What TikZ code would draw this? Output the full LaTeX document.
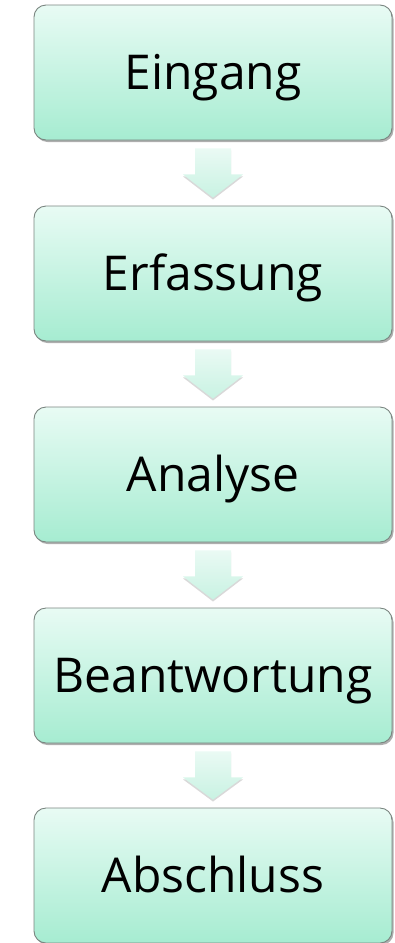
\documentclass[tikz,border=0pt]{standalone}
\usepackage{fontspec}
\setmainfont{Open Sans}
\usetikzlibrary{calc,shadows}
\definecolor{boxtop}{HTML}{E8FBF4}
\definecolor{boxbot}{HTML}{A6ECD1}
\definecolor{arrtop}{HTML}{EAFAF4}
\definecolor{arrbot}{HTML}{C8F2E2}
\definecolor{edge}{HTML}{7A8580}
\tikzset{
  stepbox/.style={draw=edge, line width=0.9pt, rounded corners=12pt,
    top color=boxtop, bottom color=boxbot,
    minimum width=358pt, minimum height=135pt, inner sep=0pt,
    text height=34pt, text depth=0pt,
    font=\fontsize{48}{56}\selectfont,
    drop shadow={shadow xshift=1.5pt, shadow yshift=-2pt, opacity=0.45, fill=black!70}},
  flowarrow/.style={top color=arrtop, bottom color=arrbot, draw=none,
    drop shadow={shadow xshift=0pt, shadow yshift=-2pt, opacity=0.25, fill=black!60}}
}
\begin{document}
\begin{tikzpicture}[x=1pt,y=-1pt]
\useasboundingbox (0,0) rectangle (395,943);
\node[stepbox] (b1) at (213,72.5) {Eingang};
\node[stepbox] (b2) at (213,273.5) {Erfassung};
\node[stepbox] (b3) at (213,474.5) {Analyse};
\node[stepbox] (b4) at (213,675.5) {Beantwortung};
\node[stepbox] (b5) at (213,875.5) {Abschluss};
\foreach \a/\b in {b1/b2,b2/b3,b3/b4,b4/b5}{
  \path[flowarrow]
    ($(\a.south)+(-18,8)$) -- ($(\a.south)+(18,8)$) -- ($(\a.south)+(18,34)$)
    -- ($(\a.south)+(30,34)$) -- ($(\b.north)+(0,-8)$) -- ($(\a.south)+(-30,34)$)
    -- ($(\a.south)+(-18,34)$) -- cycle;
}
\end{tikzpicture}
\end{document}
